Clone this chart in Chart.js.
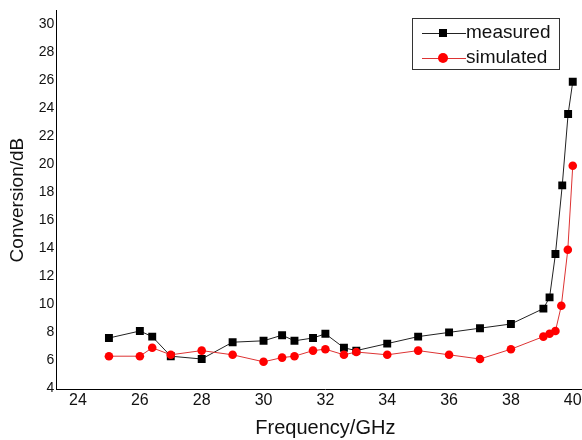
<!DOCTYPE html>
<html>
<head>
<meta charset="utf-8">
<script src="https://cdn.jsdelivr.net/npm/chart.js@4/dist/chart.umd.min.js"></script>
<style>
    html, body { margin: 0; padding: 0; background: #fff; overflow: hidden; }
    #wrap { width: 582px; height: 440px; overflow: hidden; }
</style>
</head>
<body>
<div id="wrap"><canvas id="convChart" width="600" height="440"></canvas></div>
<script>
const freqMeasured = [25, 26, 26.4, 27, 28, 29, 30, 30.6, 31, 31.6, 32, 32.6, 33, 34, 35, 36, 37, 38, 39.05, 39.25, 39.44, 39.66, 39.85, 40];
const convMeasured = [7.6, 8.1, 7.7, 6.3, 6.1, 7.3, 7.4, 7.8, 7.4, 7.6, 7.9, 6.9, 6.7, 7.2, 7.7, 8.0, 8.3, 8.6, 9.7, 10.5, 13.6, 18.5, 23.6, 25.9];

const freqSimulated = [25, 26, 26.4, 27, 28, 29, 30, 30.6, 31, 31.6, 32, 32.6, 33, 34, 35, 36, 37, 38, 39.05, 39.25, 39.44, 39.63, 39.84, 40];
const convSimulated = [6.3, 6.3, 6.9, 6.4, 6.7, 6.4, 5.9, 6.2, 6.3, 6.7, 6.8, 6.4, 6.6, 6.4, 6.7, 6.4, 6.1, 6.8, 7.7, 7.9, 8.1, 9.9, 13.9, 19.9];

const xTicks = [24, 26, 28, 30, 32, 34, 36, 38, 40];
const yTicks = [4, 6, 8, 10, 12, 14, 16, 18, 20, 22, 24, 26, 28, 30];

const FONT = "'Liberation Sans', Arial, sans-serif";

function toPoints(xs, ys) {
    return xs.map((x, i) => ({ x: x, y: ys[i] }));
}

// legend drawn inside the plot, line through marker like the original
const boxLegend = {
    id: "boxLegend",
    afterDraw(chart) {
        const ctx = chart.ctx;
        const x0 = 412, y0 = 18, w = 147, h = 51;
        ctx.save();
        ctx.fillStyle = "#fff";
        ctx.fillRect(x0, y0, w, h);
        ctx.strokeStyle = "#333";
        ctx.lineWidth = 1;
        ctx.strokeRect(x0 + 0.5, y0 + 0.5, w, h);
        chart.data.datasets.forEach((ds, i) => {
            const cy = y0 + 15 + i * 25;
            ctx.strokeStyle = ds.borderColor;
            ctx.lineWidth = 1;
            ctx.beginPath();
            ctx.moveTo(x0 + 10, cy + 0.5);
            ctx.lineTo(x0 + 54, cy + 0.5);
            ctx.stroke();
            ctx.fillStyle = ds.pointBackgroundColor;
            if (ds.pointStyle === "rect") {
                ctx.fillRect(x0 + 27, cy - 4, 8, 8);
            } else {
                ctx.beginPath();
                ctx.arc(x0 + 31, cy, 5, 0, Math.PI * 2);
                ctx.fill();
            }
            ctx.fillStyle = "#111";
            ctx.font = "19px " + FONT;
            ctx.textBaseline = "middle";
            ctx.fillText(ds.label, x0 + 54, cy);
        });
        ctx.restore();
    },
};

new Chart(document.getElementById("convChart"), {
    type: "line",
    data: {
        datasets: [
            {
                label: "measured",
                data: toPoints(freqMeasured, convMeasured),
                borderColor: "#222",
                borderWidth: 1,
                pointStyle: "rect",
                pointRadius: 5.6,
                pointBackgroundColor: "#000",
                pointBorderWidth: 0,
                tension: 0,
                order: 1,
            },
            {
                label: "simulated",
                data: toPoints(freqSimulated, convSimulated),
                borderColor: "#d33",
                borderWidth: 1,
                pointStyle: "circle",
                pointRadius: 4.3,
                pointBackgroundColor: "#f00",
                pointBorderWidth: 0,
                tension: 0,
                order: 0,
            },
        ],
    },
    options: {
        responsive: false,
        animation: false,
        layout: { padding: { left: 6, top: 5, right: 0, bottom: 0 } },
        plugins: {
            legend: { display: false },
            tooltip: { enabled: false },
        },
        scales: {
            x: {
                type: "linear",
                min: 23.3,
                max: 40.7,
                afterBuildTicks: (scale) => {
                    scale.ticks = xTicks.map((v) => ({ value: v }));
                },
                grid: { display: false, drawTicks: false },
                border: { display: true, color: "#000", width: 1 },
                ticks: {
                    padding: 1,
                    color: "#111",
                    font: { family: FONT, size: 16 },
                    maxRotation: 0,
                },
                title: {
                    display: true,
                    text: "Frequency/GHz",
                    color: "#111",
                    font: { family: FONT, size: 20 },
                    padding: { top: 5, bottom: 0 },
                },
            },
            y: {
                min: 3.9,
                max: 31,
                afterBuildTicks: (scale) => {
                    scale.ticks = yTicks.map((v) => ({ value: v }));
                },
                grid: { display: false, drawTicks: false },
                border: { display: true, color: "#000", width: 1 },
                ticks: {
                    padding: 2,
                    color: "#111",
                    font: { family: FONT, size: 14 },
                },
                title: {
                    display: true,
                    text: "Conversion/dB",
                    color: "#111",
                    font: { family: FONT, size: 19 },
                    padding: { top: 0, bottom: 8 },
                },
            },
        },
    },
    plugins: [boxLegend],
});
</script>
</body>
</html>
